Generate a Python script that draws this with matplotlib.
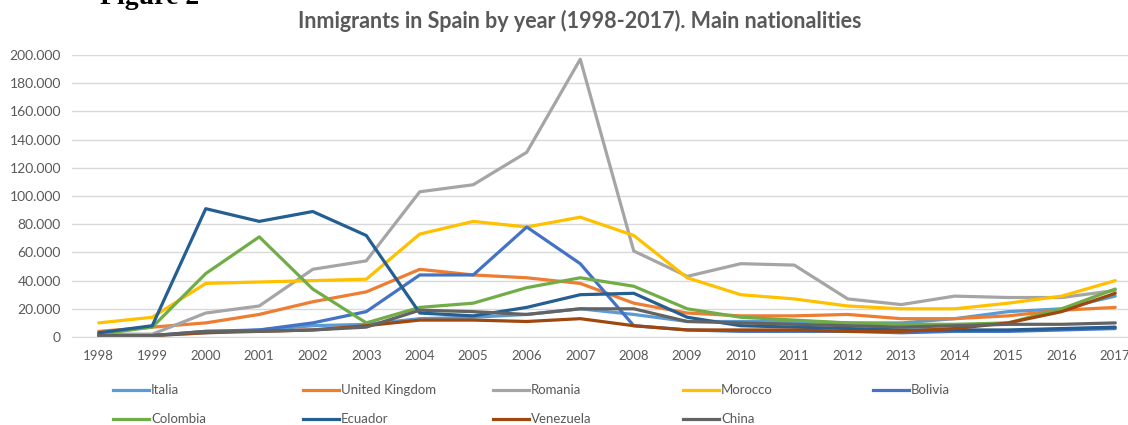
import numpy as np
import matplotlib
matplotlib.use("Agg")
import matplotlib.pyplot as plt
from matplotlib.lines import Line2D
from matplotlib.ticker import FuncFormatter

plt.rcParams['font.family'] = ['Lato', 'DejaVu Sans']

# Yearly arrivals per nationality
years = list(range(1998, 2018))

italia = [1000, 1000, 3000, 5000, 8000, 9000, 13000, 14000, 16000, 20000,
          16000, 11000, 11000, 11000, 10000, 10000, 13000, 18000, 20000, 29000]
united_kingdom = [4000, 7000, 10000, 16000, 25000, 32000, 48000, 44000, 42000, 38000,
                  24000, 17000, 15000, 15000, 16000, 13000, 13000, 15000, 19000, 21000]
romania = [2000, 2000, 17000, 22000, 48000, 54000, 103000, 108000, 131000, 197000,
           61000, 43000, 52000, 51000, 27000, 23000, 29000, 28000, 28000, 33000]
morocco = [10000, 14000, 38000, 39000, 40000, 41000, 73000, 82000, 78000, 85000,
           72000, 42000, 30000, 27000, 22000, 20000, 20000, 24000, 29000, 40000]
bolivia = [1000, 1000, 4000, 5000, 10000, 18000, 44000, 44000, 78000, 52000,
           8000, 5000, 4000, 4000, 4000, 3000, 4000, 4000, 5000, 6000]
colombia = [2000, 7000, 45000, 71000, 34000, 10000, 21000, 24000, 35000, 42000,
            36000, 20000, 14000, 12000, 10000, 9000, 9000, 10000, 20000, 34000]
ecuador = [3000, 8000, 91000, 82000, 89000, 72000, 17000, 15000, 21000, 30000,
           31000, 14000, 8000, 7000, 6000, 5000, 5000, 5000, 6000, 7000]
venezuela = [1000, 1000, 3000, 4000, 5000, 8000, 12000, 12000, 11000, 13000,
             8000, 5000, 5000, 5000, 4000, 4000, 6000, 10000, 18000, 31000]
china = [1000, 1000, 4000, 4000, 5000, 7000, 19000, 18000, 16000, 20000,
         20000, 11000, 10000, 9000, 8000, 7000, 8000, 9000, 9000, 10000]

names = ['Italia', 'United Kingdom', 'Romania', 'Morocco', 'Bolivia',
         'Colombia', 'Ecuador', 'Venezuela', 'China']
series = [italia, united_kingdom, romania, morocco, bolivia,
          colombia, ecuador, venezuela, china]
colors = ['#5B9BD5', '#ED7D31', '#A5A5A5', '#FFC000', '#4472C4',
          '#70AD47', '#255E91', '#9E480E', '#636363']

fig = plt.figure(figsize=(11.28, 4.25), dpi=100)
# plot area runs past the right edge of the figure, so the last year is clipped
ax = fig.add_axes([72 / 1128, 1 - 337 / 425, 1070 / 1128, 282 / 425])

x = np.arange(len(years))
for vals, c in zip(series, colors):
    ax.plot(x, vals, color=c, lw=2.3, solid_joinstyle='round', solid_capstyle='round')

ax.set_xlim(-0.5, len(years) - 0.5)
ax.set_ylim(0, 200000)
ax.set_yticks(np.arange(0, 200001, 20000))
ax.yaxis.set_major_formatter(FuncFormatter(lambda v, p: f"{int(v):,}".replace(",", ".")))
ax.set_xticks(x)
ax.set_xticklabels([str(y) for y in years])

ax.grid(axis='y', color='#D9D9D9', lw=1)
ax.set_axisbelow(True)
for s in ['top', 'right', 'left']:
    ax.spines[s].set_visible(False)
ax.spines['bottom'].set_color('#D9D9D9')
ax.tick_params(axis='both', length=0, colors='#595959')
ax.tick_params(axis='x', pad=9, labelsize=9.5)
ax.tick_params(axis='y', pad=8, labelsize=10)

fig.text(0.514, 1 - 21 / 425, 'Inmigrants in Spain by year (1998-2017). Main nationalities',
         ha='center', va='center', fontsize=15.5, fontweight='bold', color='#595959')
fig.text(100 / 1128, 1 - 4 / 425, 'Figure 2', ha='left', va='baseline',
         fontsize=20, fontweight='bold', family='Liberation Serif', color='black')

# legend laid out in two rows of five
for i, (name, c) in enumerate(zip(names, colors)):
    col, row = i % 5, i // 5
    x0 = (113 + col * 190) / 1128
    y0 = 1 - (390 + row * 29) / 425
    fig.add_artist(Line2D([x0, x0 + 36 / 1128], [y0, y0], color=c, lw=2.3,
                          transform=fig.transFigure))
    fig.text(x0 + 38 / 1128, y0, name, ha='left', va='center', fontsize=9.5, color='#595959')

fig.savefig('out.png', dpi=100)
